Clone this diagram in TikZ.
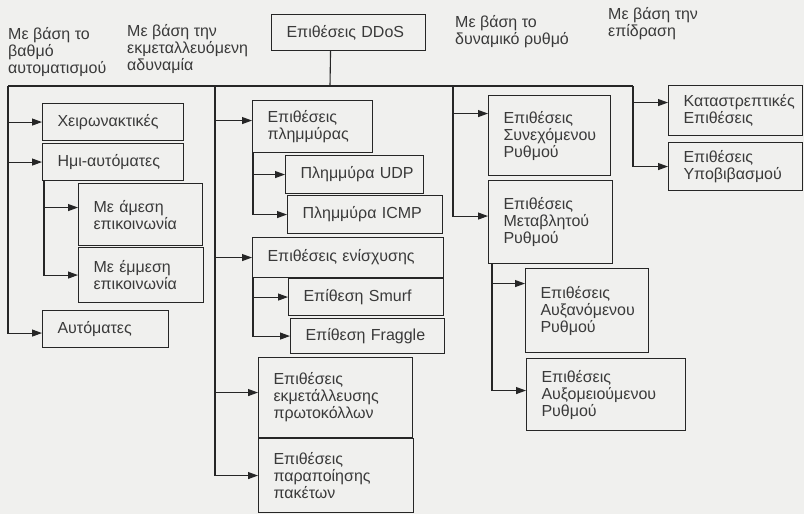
\documentclass[tikz,border=0pt]{standalone}
\usepackage{fontspec}
\setmainfont{Liberation Sans}
\usetikzlibrary{arrows.meta}
\definecolor{ink}{HTML}{3A3A3A}
\definecolor{line}{HTML}{262626}
\definecolor{paper}{HTML}{F0F0EE}
\begin{document}
\begin{tikzpicture}[x=1pt,y=-1pt,
  every node/.style={font=\fontsize{16}{17}\selectfont, text=ink},
  bx/.style n args={2}{draw=line, line width=1.1pt, anchor=north west, align=left,
    inner xsep=15pt, inner ysep=3pt, minimum width=#1pt, text width=#1pt-30pt,
    minimum height=#2pt},
  hd/.style={anchor=north west, align=left, inner sep=0pt},
  wire/.style={draw=line, line width=1.1pt},
  arr/.style={wire, -{Triangle[length=10pt,width=7pt]}},
]
\fill[paper] (0,0) rectangle (804,514);
\useasboundingbox (0,0) rectangle (804,514);

% root and classification headings
\node[bx={154}{36}] (ddos) at (271,14) {Επιθέσεις~DDoS};
\node[hd] (h1) at (8,27) {Με βάση το\\βαθμό\\αυτοματισμού};
\node[hd] (h2) at (127,24) {Με βάση την\\εκμεταλλευόμενη\\αδυναμία};
\node[hd] (h3) at (455,15) {Με βάση το\\δυναμικό ρυθμό};
\node[hd] (h4) at (608,7) {Με βάση την\\επίδραση};

% by degree of automation
\node[bx={141}{37}] (chei) at (42,103) {Χειρωνακτικές};
\node[bx={141}{37}] (hmi) at (42,143) {Ημι-αυτόματες};
\node[bx={124}{62}] (amesi) at (78,183) {Με~άμεση\\επικοινωνία};
\node[bx={125}{55}] (emmesi) at (78,247) {Με~έμμεση\\επικοινωνία};
\node[bx={126}{37}] (auto) at (42,310) {Αυτόματες};

% by exploited weakness
\node[bx={120}{52}] (plim) at (252,100) {Επιθέσεις\\πλημμύρας};
\node[bx={138}{38}] (udp) at (285,155) {Πλημμύρα~UDP};
\node[bx={155}{38}] (icmp) at (287,195) {Πλημμύρα~ICMP};
\node[bx={191}{40}] (enis) at (252,237) {Επιθέσεις~ενίσχυσης};
\node[bx={155}{37}] (smurf) at (288,278) {Επίθεση~Smurf};
\node[bx={154}{35}] (fraggle) at (290,318) {Επίθεση~Fraggle};
\node[bx={154}{80}] (ekm) at (258,357) {Επιθέσεις\\εκμετάλλευσης\\πρωτοκόλλων};
\node[bx={155}{74}] (para) at (258,438) {Επιθέσεις\\παραποίησης\\πακέτων};

% by attack rate dynamics
\node[bx={122}{80}] (syn) at (488,95) {Επιθέσεις\\Συνεχόμενου\\Ρυθμού};
\node[bx={124}{83}] (met) at (488,180) {Επιθέσεις\\Μεταβλητού\\Ρυθμού};
\node[bx={123}{84}] (auxan) at (525,268) {Επιθέσεις\\Αυξανόμενου\\Ρυθμού};
\node[bx={159}{72}] (auxom) at (526,358) {Επιθέσεις\\Αυξομειούμενου\\Ρυθμού};

% by impact
\node[bx={134}{50}] (kat) at (668,85) {Καταστρεπτικές\\Επιθέσεις};
\node[bx={134}{48}] (ypo) at (668,142) {Επιθέσεις\\Υποβιβασμού};

% main bus
\coordinate (b1) at (8,86);
\coordinate (b2) at (215,86);
\coordinate (bs) at (330,86);
\coordinate (b3) at (453,86);
\coordinate (b4) at (633,86);
\draw[wire] (b1) -- (b4);
\draw[wire] ([xshift=-18pt]ddos.south) -- (bs);

% column 1
\coordinate (autoin) at ([yshift=-4pt]auto.west);
\draw[arr] (b1) |- (autoin);
\draw[arr] (b1 |- chei.west) -- (chei.west);
\draw[arr] (b1 |- hmi.west) -- (hmi.west);
\coordinate (s1) at ([xshift=2pt]hmi.south west);
\coordinate (amesiin) at ([yshift=7pt]amesi.west);
\draw[arr] (s1) |- (emmesi.west);
\draw[arr] (s1 |- amesiin) -- (amesiin);

% column 2
\coordinate (plimin) at ([yshift=6pt]plim.west);
\coordinate (ekmin) at ([yshift=5pt]ekm.west);
\draw[arr] (b2) |- (para.west);
\draw[arr] (b2 |- plimin) -- (plimin);
\draw[arr] (b2 |- enis.west) -- (enis.west);
\draw[arr] (b2 |- ekmin) -- (ekmin);
\coordinate (s2a) at ([xshift=1pt]plim.south west);
\draw[arr] (s2a) |- (icmp.west);
\draw[arr] (s2a |- udp.west) -- (udp.west);
\coordinate (s2b) at ([xshift=1pt]enis.south west);
\draw[arr] (s2b) |- (fraggle.west);
\draw[arr] (s2b |- smurf.west) -- (smurf.west);

% column 3
\coordinate (synin) at ([yshift=22pt]syn.west);
\coordinate (metin) at ([yshift=6pt]met.west);
\draw[arr] (b3) |- (metin);
\draw[arr] (b3 |- synin) -- (synin);
\coordinate (s3) at ([xshift=4pt]met.south west);
\coordinate (auxanin) at ([yshift=27pt]auxan.west);
\coordinate (auxomin) at ([yshift=4pt]auxom.west);
\draw[arr] (s3) |- (auxomin);
\draw[arr] (s3 |- auxanin) -- (auxanin);

% column 4
\coordinate (katin) at ([yshift=8pt]kat.west);
\draw[arr] (b4) |- (ypo.west);
\draw[arr] (b4 |- katin) -- (katin);
\end{tikzpicture}
\end{document}
